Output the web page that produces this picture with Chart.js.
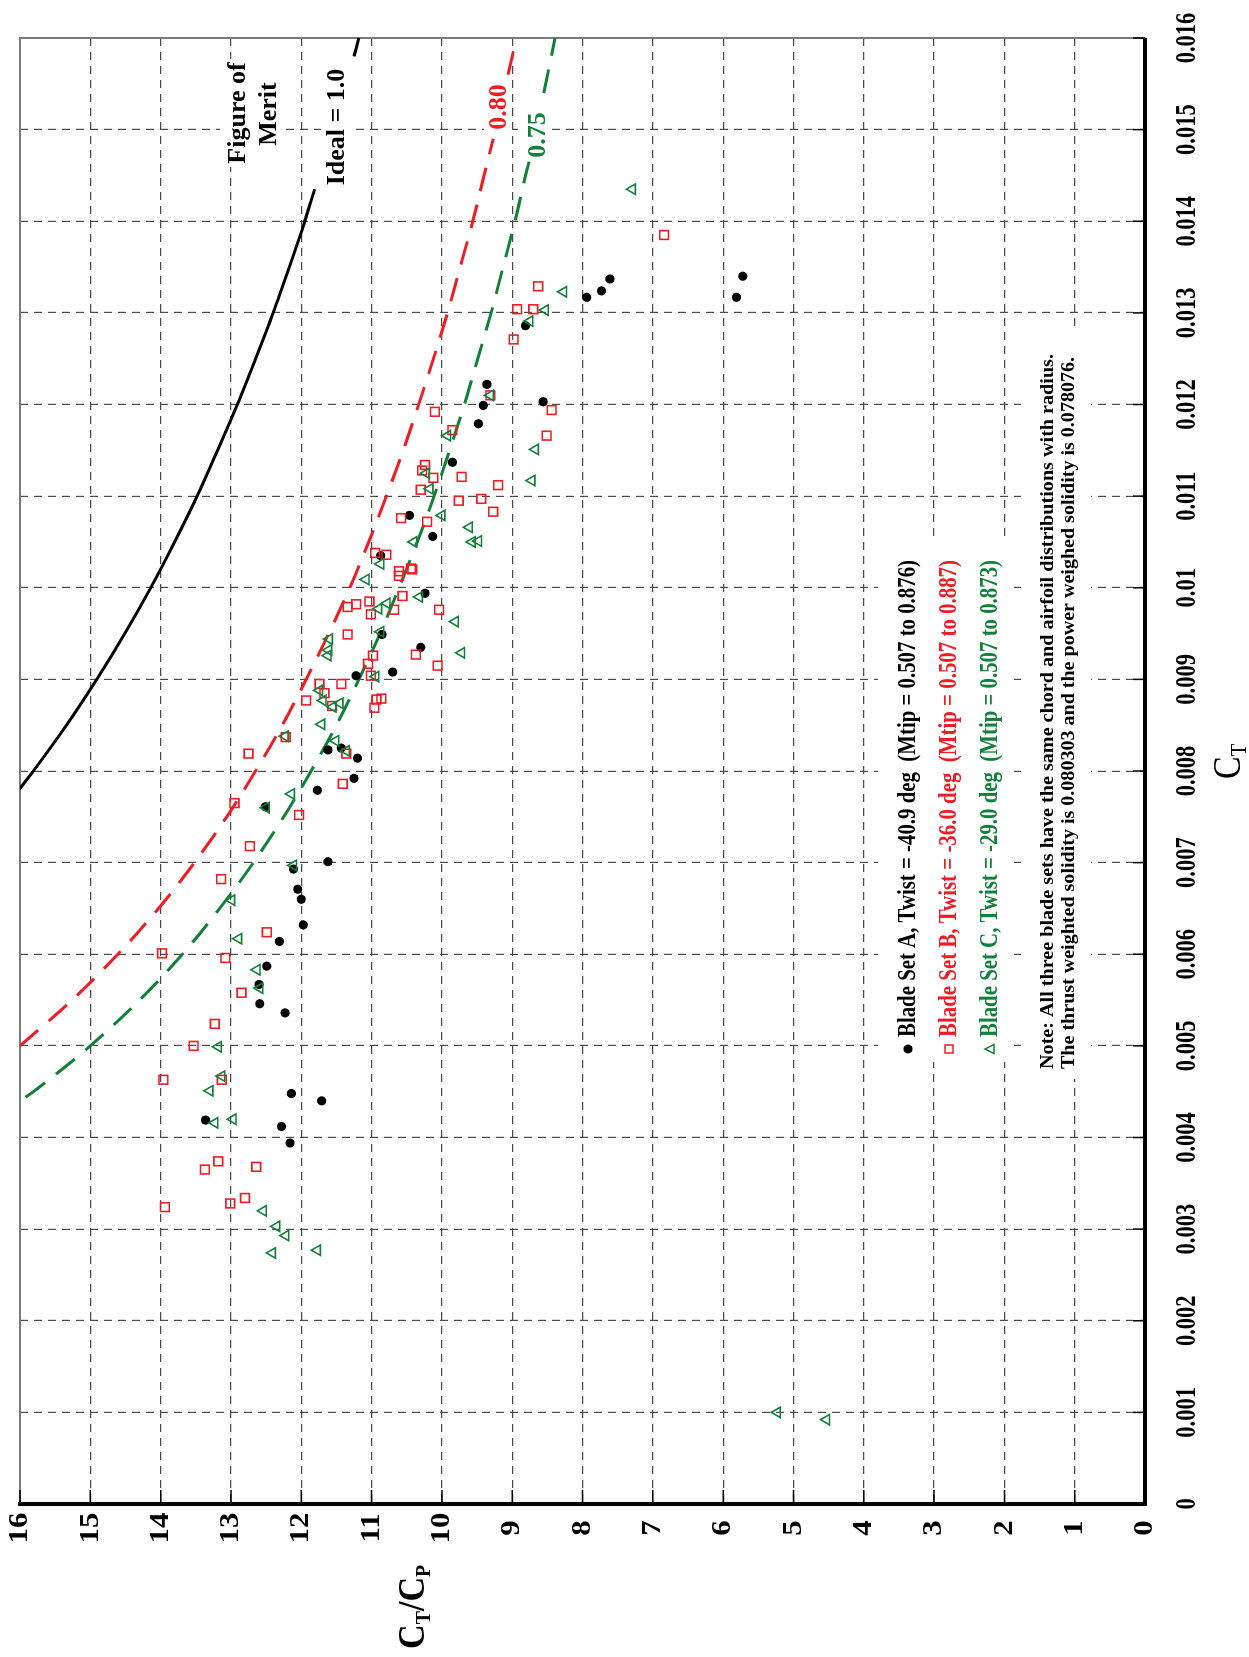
<!DOCTYPE html>
<html>
<head>
<meta charset="utf-8">
<script src="https://cdn.jsdelivr.net/npm/chart.js@4.4.0/dist/chart.umd.min.js"></script>
<style>
    html, body { margin: 0; padding: 0; background: #fff; width: 1249px; height: 1657px; overflow: hidden; }
    /* chart is drawn landscape, then turned a quarter turn counter-clockwise */
    #wrap { position: absolute; left: 0; top: 1657px; width: 1657px; height: 1249px; transform-origin: 0 0; transform: rotate(-90deg); }
    #chart { width: 1657px; height: 1249px; }
</style>
</head>
<body>
<div id="wrap"><canvas id="chart" width="1657" height="1249"></canvas></div>
<script>
// Axis ticks
const ctTickValues = [0, 0.001, 0.002, 0.003, 0.004, 0.005, 0.006, 0.007, 0.008, 0.009, 0.010, 0.011, 0.012, 0.013, 0.014, 0.015, 0.016];
const ctTickLabels = ['0', '0.001', '0.002', '0.003', '0.004', '0.005', '0.006', '0.007', '0.008', '0.009', '0.01', '0.011', '0.012', '0.013', '0.014', '0.015', '0.016'];
const ratioTickValues = [0, 1, 2, 3, 4, 5, 6, 7, 8, 9, 10, 11, 12, 13, 14, 15, 16];
const ratioTickLabels = ['0', '1', '2', '3', '4', '5', '6', '7', '8', '9', '10', '11', '12', '13', '14', '15', '16'];

// Blade Set A (black dots)
const setACt = [0.00614, 0.00587, 0.00567, 0.00546, 0.00536, 0.00448, 0.00440, 0.00419, 0.00412, 0.00394,
    0.00904, 0.00908, 0.00823, 0.00825, 0.00814, 0.00792, 0.00779, 0.00761, 0.00701, 0.00693, 0.00671, 0.00660, 0.00632,
    0.01137, 0.01079, 0.01056, 0.01035, 0.00994, 0.00949, 0.00935,
    0.01222, 0.01199, 0.01179, 0.01203, 0.01317, 0.01324, 0.01337, 0.01286, 0.01317, 0.01340];
const setARatio = [12.31, 12.49, 12.60, 12.59, 12.23, 12.14, 11.71, 13.36, 12.28, 12.16,
    11.22, 10.70, 11.62, 11.43, 11.20, 11.25, 11.77, 12.51, 11.62, 12.11, 12.05, 12.00, 11.97,
    9.85, 10.46, 10.13, 10.87, 10.24, 10.85, 10.30,
    9.36, 9.41, 9.48, 8.56, 7.94, 7.73, 7.61, 8.81, 5.81, 5.72];

// Blade Set B (red squares)
const setBCt = [0.00601, 0.00596, 0.00558, 0.00524, 0.00500, 0.00463, 0.00463, 0.00365, 0.00374, 0.00368, 0.00324, 0.00328, 0.00334,
    0.00917, 0.00915, 0.00904, 0.00895, 0.00895, 0.00885, 0.00877, 0.00878, 0.00879, 0.00869, 0.00871,
    0.00837, 0.00819, 0.00819, 0.00786, 0.00765, 0.00752, 0.00718, 0.00682, 0.00624,
    0.01166, 0.01134, 0.01128, 0.01120, 0.01121, 0.01112, 0.01107, 0.01095, 0.01097, 0.01083, 0.01076, 0.01072,
    0.01038, 0.01036, 0.01018, 0.01013, 0.01021, 0.01020, 0.00991, 0.00985, 0.00982, 0.00979, 0.00971, 0.00976, 0.00976,
    0.00949, 0.00926, 0.00927,
    0.01210, 0.01194, 0.01172, 0.01192, 0.01385, 0.01329, 0.01304, 0.01304, 0.01271];
const setBRatio = [13.98, 13.08, 12.85, 13.23, 13.53, 13.96, 13.13, 13.37, 13.18, 12.64, 13.94, 13.01, 12.80,
    11.05, 10.06, 11.01, 11.74, 11.43, 11.67, 11.93, 10.93, 10.86, 10.96, 11.56,
    12.22, 12.75, 11.36, 11.41, 12.95, 12.03, 12.73, 13.14, 12.49,
    8.51, 10.24, 10.28, 10.12, 9.72, 9.20, 10.30, 9.76, 9.44, 9.27, 10.58, 10.21,
    10.95, 10.79, 10.61, 10.61, 10.44, 10.42, 10.56, 11.03, 11.22, 11.34, 11.01, 10.68, 10.04,
    11.34, 10.98, 10.37,
    9.31, 8.44, 9.85, 10.10, 6.84, 8.63, 8.93, 8.70, 8.98];

// Blade Set C (green triangles)
const setCCt = [0.00583, 0.00563, 0.00499, 0.00467, 0.00451, 0.00416, 0.00420, 0.00320, 0.00303, 0.00293, 0.00274, 0.00277,
    0.00903, 0.00888, 0.00877, 0.00870, 0.00874, 0.00851, 0.00838, 0.00833, 0.00822, 0.00775, 0.00760, 0.00697, 0.00659, 0.00617,
    0.01166, 0.01151, 0.01117, 0.01125, 0.01108, 0.01079, 0.01066, 0.01050, 0.01051, 0.01050, 0.01026,
    0.01009, 0.00990, 0.00977, 0.00983, 0.00963, 0.00952, 0.00944, 0.00932, 0.00926, 0.00929,
    0.01210, 0.01323, 0.01303, 0.01291, 0.01435, 0.00100, 0.00092];
const setCRatio = [12.63, 12.59, 13.18, 13.13, 13.30, 13.23, 12.97, 12.54, 12.35, 12.22, 12.41, 11.77,
    10.94, 11.74, 11.69, 11.55, 11.45, 11.71, 12.23, 11.51, 11.36, 12.14, 12.50, 12.11, 12.99, 12.89,
    9.92, 8.67, 8.72, 10.22, 10.17, 10.00, 9.61, 9.57, 9.48, 10.40, 10.87,
    11.08, 10.32, 10.90, 10.78, 9.81, 10.87, 11.60, 11.61, 11.62, 9.72,
    9.31, 8.27, 8.53, 8.75, 7.29, 5.23, 4.53];

// Figure of merit curves (null = break for the label)
const idealCt = [0.0078, 0.0080, 0.0085, 0.0090, 0.0095, 0.0100, 0.0105, 0.0110, 0.0115, 0.0120, 0.0125, 0.0130, 0.0135, 0.0140, 0.01435, 0.0150, 0.0158, 0.0160];
const idealRatio = [16.01, 15.81, 15.34, 14.91, 14.51, 14.14, 13.80, 13.48, 13.19, 12.91, 12.65, 12.40, 12.17, 11.95, 11.81, null, 11.25, 11.18];
const fm80Ct = [0.0050, 0.0055, 0.0060, 0.0065, 0.0070, 0.0075, 0.0080, 0.0085, 0.0090, 0.0095, 0.0100, 0.0105, 0.0110, 0.0115, 0.0120, 0.0125, 0.0130, 0.0135, 0.0140, 0.0145, 0.0149, 0.0152, 0.0156, 0.0160];
const fm80Ratio = [16.00, 15.26, 14.61, 14.03, 13.52, 13.06, 12.65, 12.27, 11.93, 11.61, 11.31, 11.04, 10.79, 10.55, 10.33, 10.12, 9.92, 9.74, 9.56, 9.40, 9.27, null, 9.06, 8.94];
const fm75Ct = [0.00444, 0.0045, 0.0050, 0.0055, 0.0060, 0.0065, 0.0070, 0.0075, 0.0080, 0.0085, 0.0090, 0.0095, 0.0100, 0.0105, 0.0110, 0.0115, 0.0120, 0.0125, 0.0130, 0.0135, 0.0140, 0.0145, 0.01465, 0.0150, 0.0154, 0.0160];
const fm75Ratio = [15.92, 15.81, 15.00, 14.30, 13.69, 13.16, 12.68, 12.25, 11.86, 11.50, 11.18, 10.88, 10.61, 10.35, 10.11, 9.89, 9.68, 9.49, 9.30, 9.13, 8.96, 8.81, 8.76, null, 8.55, 8.39];

const RED = '#ee1c25';
const GREEN = '#12803a';
const SERIF = "'Liberation Serif', 'Times New Roman', serif";

function toPoints(xs, ys) {
    return xs.map((x, i) => ({ x: x, y: ys[i] }));
}

// text squeezed horizontally by sx
function drawText(ctx, text, x, y, font, color, sx, align, baseline) {
    ctx.save();
    ctx.font = font;
    ctx.fillStyle = color;
    ctx.textAlign = align || 'left';
    ctx.textBaseline = baseline || 'alphabetic';
    ctx.translate(x, y);
    ctx.scale(sx, 1);
    ctx.fillText(text, 0, 0);
    ctx.restore();
}

function fitScale(ctx, text, font, width) {
    ctx.save();
    ctx.font = font;
    const w = ctx.measureText(text).width;
    ctx.restore();
    return width / w;
}

// letters with subscripts
function drawSubbed(ctx, parts, x, y, bigFont, smallFont, sx) {
    ctx.save();
    ctx.fillStyle = '#000';
    ctx.textBaseline = 'alphabetic';
    ctx.translate(x, y);
    ctx.scale(sx, 1);
    let cx = 0;
    parts.forEach(p => {
        ctx.font = p.sub ? smallFont : bigFont;
        ctx.fillText(p.t, cx, p.sub ? 6 : 0);
        cx += ctx.measureText(p.t).width;
    });
    ctx.restore();
}

const decorPlugin = {
    id: 'decor',
    beforeDatasetsDraw(chart) {
        const ctx = chart.ctx;
        const a = chart.chartArea;
        // thin grey frame on the two far sides
        ctx.save();
        ctx.strokeStyle = '#7a7a7a';
        ctx.lineWidth = 2;
        ctx.beginPath();
        ctx.moveTo(a.left, a.top);
        ctx.lineTo(a.right, a.top);
        ctx.lineTo(a.right, a.bottom);
        ctx.stroke();
        // white patches behind the texts, hiding the grid
        ctx.fillStyle = '#fff';
        ctx.fillRect(595, 878, 524, 136);   // legend
        ctx.fillRect(578, 1021, 750, 70);    // note
        ctx.fillRect(1490, 220, 108, 64);    // Figure of Merit
        ctx.fillRect(1468, 321, 124, 30);    // Ideal = 1.0
        ctx.fillRect(1526, 484, 48, 28);     // 0.80
        ctx.fillRect(1498, 523, 48, 28);     // 0.75
        ctx.restore();
    },
    afterDraw(chart) {
        const ctx = chart.ctx;
        const a = chart.chartArea;
        const xs = chart.scales.x;
        const ys = chart.scales.y;

        // inward tick marks
        ctx.save();
        ctx.strokeStyle = '#000';
        ctx.lineWidth = 1.5;
        ctx.beginPath();
        ctTickValues.forEach(v => {
            const px = xs.getPixelForValue(v);
            ctx.moveTo(px, a.bottom);
            ctx.lineTo(px, a.bottom - 12);
        });
        ratioTickValues.forEach(v => {
            const py = ys.getPixelForValue(v);
            ctx.moveTo(a.left, py);
            ctx.lineTo(a.left + 14, py);
        });
        ctx.stroke();
        ctx.restore();

        // tick labels
        const ctFont = 'bold 30px ' + SERIF;
        ctTickValues.forEach((v, i) => {
            drawText(ctx, ctTickLabels[i], xs.getPixelForValue(v), 1195, ctFont, '#000', 0.75, 'center');
        });
        const ratioFont = 'bold 28px ' + SERIF;
        ratioTickValues.forEach((v, i) => {
            drawText(ctx, ratioTickLabels[i], 129, ys.getPixelForValue(v), ratioFont, '#000', 1.1, 'center', 'middle');
        });

        // axis titles
        drawSubbed(ctx, [{ t: 'C' }, { t: 'T', sub: true }], 878, 1240, '40px ' + SERIF, '24px ' + SERIF, 0.85);
        drawSubbed(ctx, [{ t: 'C' }, { t: 'T', sub: true }, { t: '/' }, { t: 'C' }, { t: 'P', sub: true }], 8, 424,
            'bold 38px ' + SERIF, 'bold 22px ' + SERIF, 0.9);

        // curve labels
        const lblFont = 'bold 26px ' + SERIF;
        drawText(ctx, 'Figure of', 1544, 245, lblFont, '#000', 1, 'center');
        drawText(ctx, 'Merit', 1543, 276, lblFont, '#000', 1, 'center');
        drawText(ctx, 'Ideal = 1.0', 1530, 344, lblFont, '#000', 1, 'center');
        drawText(ctx, '0.80', 1550, 506, lblFont, RED, 1, 'center');
        drawText(ctx, '0.75', 1522, 545, lblFont, GREEN, 1, 'center');

        // legend
        const legFont = 'bold 25px ' + SERIF;
        const legend = [
            { text: 'Blade Set A, Twist = -40.9 deg  (Mtip = 0.507 to 0.876)', color: '#000', y: 915, mark: 'dot' },
            { text: 'Blade Set B, Twist = -36.0 deg  (Mtip = 0.507 to 0.887)', color: RED, y: 956, mark: 'square' },
            { text: 'Blade Set C, Twist = -29.0 deg  (Mtip = 0.507 to 0.873)', color: GREEN, y: 997, mark: 'tri' }
        ];
        legend.forEach(item => {
            const sx = fitScale(ctx, item.text, legFont, 477);
            drawText(ctx, item.text, 620, item.y, legFont, item.color, sx, 'left');
            const mx = 608, my = item.y - 7;
            ctx.save();
            ctx.lineWidth = 1.5;
            if (item.mark === 'dot') {
                ctx.fillStyle = '#000';
                ctx.beginPath();
                ctx.arc(mx, my, 4.5, 0, Math.PI * 2);
                ctx.fill();
            } else if (item.mark === 'square') {
                ctx.strokeStyle = RED;
                ctx.strokeRect(mx - 4, my - 4, 8, 8);
            } else {
                ctx.strokeStyle = GREEN;
                ctx.beginPath();
                ctx.moveTo(mx, my - 5);
                ctx.lineTo(mx + 4.5, my + 4);
                ctx.lineTo(mx - 4.5, my + 4);
                ctx.closePath();
                ctx.stroke();
            }
            ctx.restore();
        });

        // note
        const noteFont = 'bold 19px ' + SERIF;
        const note1 = 'Note: All three blade sets have the same chord and airfoil distributions with radius.';
        const note2 = 'The thrust weighted solidity is 0.080303 and the power weighed solidity is 0.078076.';
        drawText(ctx, note1, 588, 1053, noteFont, '#000', fitScale(ctx, note1, noteFont, 715), 'left');
        drawText(ctx, note2, 588, 1074, noteFont, '#000', fitScale(ctx, note2, noteFont, 712), 'left');
    }
};

const curveStyle = {
    showLine: true,
    pointRadius: 0,
    borderWidth: 3,
    spanGaps: false,
    cubicInterpolationMode: 'monotone'
};

const chartCtx = document.getElementById('chart').getContext('2d');
const fmChart = new Chart(chartCtx, {
    type: 'scatter',
    data: {
        datasets: [
            {
                label: 'Blade Set C',
                data: toPoints(setCCt, setCRatio),
                pointStyle: 'triangle',
                radius: 6,
                borderWidth: 1.6,
                borderColor: GREEN,
                backgroundColor: 'rgba(0,0,0,0)'
            },
            {
                label: 'Blade Set B',
                data: toPoints(setBCt, setBRatio),
                pointStyle: 'rect',
                radius: 6.2,
                borderWidth: 1.6,
                borderColor: RED,
                backgroundColor: 'rgba(0,0,0,0)'
            },
            {
                label: 'Blade Set A',
                data: toPoints(setACt, setARatio),
                pointStyle: 'circle',
                radius: 4.6,
                borderWidth: 0,
                backgroundColor: '#000'
            },
            Object.assign({
                label: 'Ideal',
                data: toPoints(idealCt, idealRatio),
                borderColor: '#000'
            }, curveStyle),
            Object.assign({
                label: 'FM 0.80',
                data: toPoints(fm80Ct, fm80Ratio),
                borderColor: RED,
                borderDash: [24, 14]
            }, curveStyle),
            Object.assign({
                label: 'FM 0.75',
                data: toPoints(fm75Ct, fm75Ratio),
                borderColor: GREEN,
                borderDash: [24, 14]
            }, curveStyle)
        ]
    },
    options: {
        responsive: false,
        animation: false,
        devicePixelRatio: 1,
        layout: { padding: { left: 0, right: 38, top: 20, bottom: 0 } },
        plugins: {
            legend: { display: false },
            tooltip: { enabled: false }
        },
        scales: {
            x: {
                type: 'linear',
                min: 0,
                max: 0.016,
                afterBuildTicks: function (scale) {
                    scale.ticks = ctTickValues.map(v => ({ value: v }));
                },
                afterFit: function (scale) {
                    scale.height = 104;
                },
                ticks: { display: false },
                grid: { color: '#4a4a4a', lineWidth: 1.2, drawTicks: false },
                border: { display: true, color: '#000', width: 4, dash: [8, 6] }
            },
            y: {
                type: 'linear',
                min: 0,
                max: 16,
                afterBuildTicks: function (scale) {
                    scale.ticks = ratioTickValues.map(v => ({ value: v }));
                },
                afterFit: function (scale) {
                    scale.width = 153;
                },
                ticks: { display: false },
                grid: { color: '#4a4a4a', lineWidth: 1.2, drawTicks: false },
                border: { display: true, color: '#000', width: 4, dash: [8, 6] }
            }
        }
    },
    plugins: [decorPlugin]
});
</script>
</body>
</html>
